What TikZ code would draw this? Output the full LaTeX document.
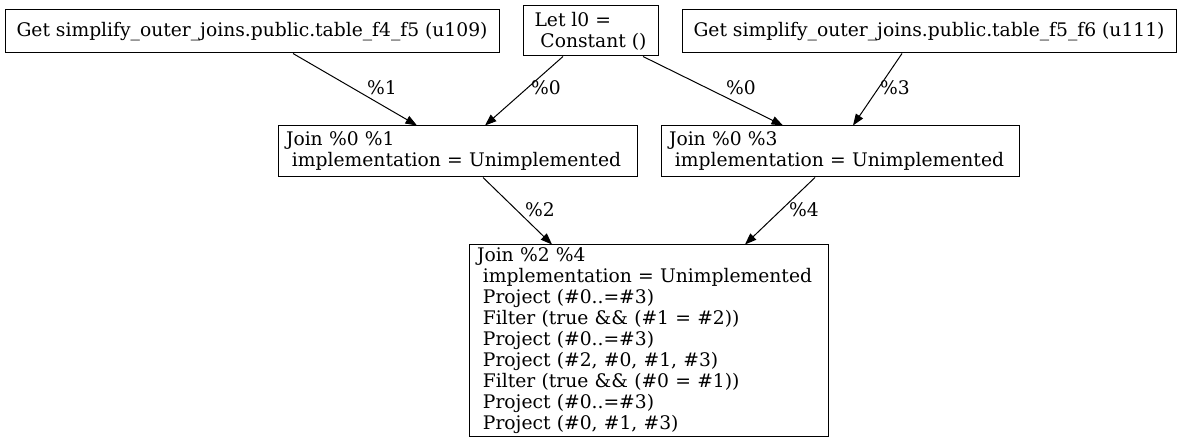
\documentclass[tikz,border=0pt]{standalone}
\usepackage{fontspec}
\setmainfont{DejaVu Serif}
\usetikzlibrary{arrows.meta}
\newcommand\lsp{\hspace*{0.318em}}
\begin{document}
\begin{tikzpicture}[x=1pt,y=-1pt,
  box/.style={draw=black, line width=1pt, rectangle, font=\fontsize{18.7}{21}\selectfont, inner xsep=8pt, inner ysep=0pt, align=left},
  onebox/.style={box, align=center, minimum height=43pt},
  lbl/.style={font=\fontsize{18.7}{21}\selectfont, inner sep=0pt},
  edge/.style={line width=1pt, -{Triangle[length=11.5pt,width=8.5pt]}}]
\useasboundingbox (0,0) rectangle (1183,443);
\fill[white] (0,0) rectangle (1183,443);
\node[onebox, minimum width=494pt] (get1) at (252,31.5) {Get simplify\_outer\_joins.public.table\_f4\_f5 (u109)};
\node[box, minimum width=135pt, minimum height=50pt] (let) at (590.5,31) {Let l0 =\\\lsp Constant ()};
\node[onebox, minimum width=494pt] (get2) at (929,31.5) {Get simplify\_outer\_joins.public.table\_f5\_f6 (u111)};
\node[box, text width=343pt, minimum height=51pt] (join1) at (457.5,151.5) {Join \%0 \%1\\\lsp implementation = Unimplemented};
\node[box, text width=342pt, minimum height=51pt] (join2) at (840,151.5) {Join \%0 \%3\\\lsp implementation = Unimplemented};
\node[box, text width=343pt, minimum height=191pt] (big) at (648.5,340.5) {Join \%2 \%4\\
\lsp implementation = Unimplemented\\
\lsp Project (\#0..=\#3)\\
\lsp Filter (true \&\& (\#1 = \#2))\\
\lsp Project (\#0..=\#3)\\
\lsp Project (\#2, \#0, \#1, \#3)\\
\lsp Filter (true \&\& (\#0 = \#1))\\
\lsp Project (\#0..=\#3)\\
\lsp Project (\#0, \#1, \#3)};
\draw[edge] ([xshift=41pt]get1.south) -- ([xshift=-40.5pt]join1.north);
\draw[edge] ([xshift=-27.5pt]let.south) -- ([xshift=27.5pt]join1.north);
\draw[edge] ([xshift=52.5pt]let.south) -- ([xshift=-57pt]join2.north);
\draw[edge] ([xshift=-27pt]get2.south) -- ([xshift=13pt]join2.north);
\draw[edge] ([xshift=25.5pt]join1.south) -- ([xshift=-96.5pt]big.north);
\draw[edge] ([xshift=-25pt]join2.south) -- ([xshift=96.5pt]big.north);
\node[lbl] (l1) at (382,88) {\%1};
\node[lbl] (l2) at (546,88) {\%0};
\node[lbl] (l3) at (741,88) {\%0};
\node[lbl] (l4) at (895,88) {\%3};
\node[lbl] (l5) at (540,210) {\%2};
\node[lbl] (l6) at (804,210) {\%4};
\end{tikzpicture}
\end{document}
